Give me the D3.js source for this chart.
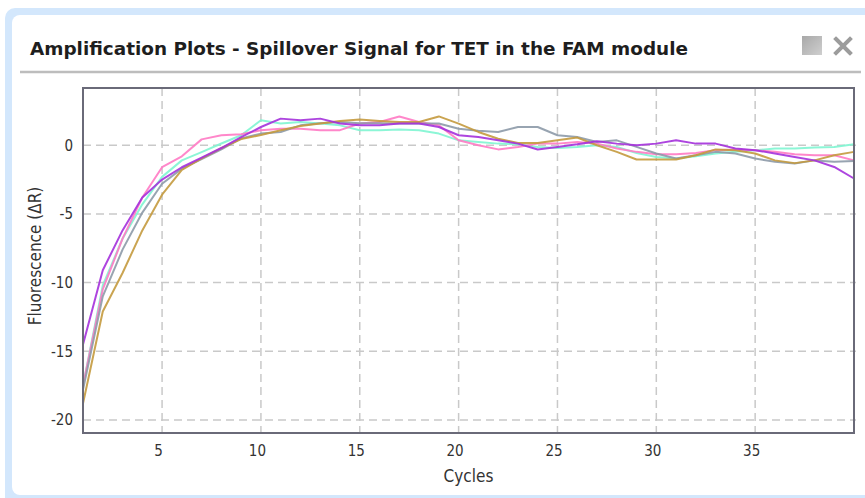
<!DOCTYPE html>
<html>
<head>
<meta charset="utf-8">
<script src="https://cdn.jsdelivr.net/npm/d3@7"></script>
<style>
  html, body { margin: 0; padding: 0; background: #fff; }
  svg { display: block; }
</style>
</head>
<body>
<svg id="chart" width="865" height="498"></svg>
<script>
// Cycle numbers along the x axis
const cycles = [1,2,3,4,5,6,7,8,9,10,11,12,13,14,15,16,17,18,19,20,
                21,22,23,24,25,26,27,28,29,30,31,32,33,34,35,36,37,38,39,40];

// Fluorescence (ΔR) per cycle for each well
const tealSeries = [-17.5,-10.2,-6.8,-4.3,-2.3,-1.1,-0.5,0.13,0.73,1.82,1.58,1.7,1.58,1.45,1.1,1.1,1.14,1.1,0.85,0.36,
                    0.24,0.12,0.07,-0.12,-0.2,-0.12,0,-0.12,-0.56,-0.85,-0.97,-0.8,-0.6,-0.48,-0.36,-0.24,-0.24,-0.17,-0.12,0.07];
const pinkSeries = [-17.5,-10.5,-6.8,-3.8,-1.6,-0.8,0.43,0.73,0.8,1.1,1.2,1.2,1.1,1.1,1.58,1.7,2.1,1.7,1.45,0.36,
                    0,-0.3,-0.12,0.12,0.12,0.24,0.12,-0.24,-0.48,-0.65,-0.65,-0.56,-0.36,-0.3,-0.36,-0.48,-0.65,-0.73,-0.73,-1.1];
const greySeries = [-17.8,-11,-7.6,-4.9,-2.8,-1.7,-1.0,-0.3,0.5,0.85,0.97,1.45,1.6,1.7,1.6,1.6,1.58,1.58,1.58,1.2,
                    1.05,0.97,1.33,1.33,0.73,0.6,0.24,0.36,-0.12,-0.6,-0.97,-0.73,-0.48,-0.6,-0.97,-1.2,-1.33,-1.1,-1.2,-1.14];
const goldSeries = [-18.8,-12.1,-9.3,-6.2,-3.6,-1.8,-0.95,-0.2,0.45,0.75,1.1,1.4,1.58,1.77,1.87,1.77,1.7,1.7,2.1,1.58,
                    0.97,0.48,0.17,0.17,0.36,0.56,0,-0.48,-1.04,-1.04,-1.04,-0.73,-0.3,-0.36,-0.6,-1.1,-1.3,-1.1,-0.73,-0.48];
const purpleSeries = [-14.5,-9.1,-6.2,-3.8,-2.5,-1.6,-0.9,-0.2,0.6,1.33,1.94,1.82,1.94,1.58,1.45,1.45,1.58,1.58,1.33,0.73,
                      0.6,0.36,0.12,-0.31,-0.12,0.07,0.3,0.12,0,0.12,0.36,0.12,0.12,-0.24,-0.36,-0.6,-0.85,-1.1,-1.58,-2.42];

// Tick values
const xTicks = [5, 10, 15, 20, 25, 30, 35];
const yTicks = [0, -5, -10, -15, -20];

const titleText = "Amplification Plots - Spillover Signal for TET in the FAM module";

const series = [
  { values: tealSeries,   color: "#7ff5d2" },
  { values: pinkSeries,   color: "#ff7ac4" },
  { values: greySeries,   color: "#8d9aa8" },
  { values: goldSeries,   color: "#c49a3e" },
  { values: purpleSeries, color: "#a431dc" }
];

const svg = d3.select("#chart");

// Window frame: light blue border with a rounded white panel
svg.append("rect").attr("x", 5).attr("y", 8).attr("width", 880).attr("height", 500)
  .attr("rx", 10).attr("fill", "#d3e7fc");
svg.append("rect").attr("x", 12).attr("y", 15).attr("width", 870).attr("height", 480)
  .attr("rx", 8).attr("fill", "#ffffff");

// Title bar
svg.append("text")
  .attr("x", 30).attr("y", 55)
  .attr("font-family", "'DejaVu Sans Condensed', 'DejaVu Sans', sans-serif")
  .attr("font-weight", "bold")
  .attr("font-size", 18)
  .attr("fill", "#1e1e1e")
  .attr("textLength", 658)
  .attr("lengthAdjust", "spacingAndGlyphs")
  .text(titleText);

svg.append("line").attr("x1", 20).attr("x2", 861).attr("y1", 72).attr("y2", 72)
  .attr("stroke", "#bdbdbd").attr("stroke-width", 2.5);

// Window icons
const grad = svg.append("defs").append("linearGradient").attr("id", "iconGrad")
  .attr("x1", 0).attr("y1", 0).attr("x2", 1).attr("y2", 1);
grad.append("stop").attr("offset", "0%").attr("stop-color", "#a8a8a8");
grad.append("stop").attr("offset", "100%").attr("stop-color", "#cfcfcf");
svg.append("rect").attr("x", 802).attr("y", 36).attr("width", 20).attr("height", 19)
  .attr("fill", "url(#iconGrad)");
svg.append("path").attr("d", "M836,39 L850,53 M850,39 L836,53")
  .attr("stroke", "#9c9c9c").attr("stroke-width", 4).attr("stroke-linecap", "square");

// Plot area
const plot = { left: 83, right: 854, top: 88, bottom: 433 };

const x = d3.scaleLinear().domain([1, 40]).range([plot.left, plot.right]);
const y = d3.scaleLinear().domain([-20.95, 4.17]).range([plot.bottom, plot.top]);

const fontFamily = "'DejaVu Sans Condensed', 'DejaVu Sans', sans-serif";

// Dashed grid
const grid = svg.append("g");
grid.selectAll(".vgrid").data(xTicks).join("line")
  .attr("x1", d => x(d)).attr("x2", d => x(d))
  .attr("y1", plot.top).attr("y2", plot.bottom + 3)
  .attr("stroke", "#c9c9c9").attr("stroke-width", 1.5).attr("stroke-dasharray", "8,5");
grid.selectAll(".hgrid").data(yTicks).join("line")
  .attr("x1", plot.left).attr("x2", plot.right + 2)
  .attr("y1", d => y(d)).attr("y2", d => y(d))
  .attr("stroke", "#c9c9c9").attr("stroke-width", 1.5).attr("stroke-dasharray", "8,5");

// Curves
const line = d3.line()
  .x((d, i) => x(cycles[i]))
  .y(d => y(d));

svg.append("g").selectAll("path").data(series).join("path")
  .attr("d", d => line(d.values))
  .attr("fill", "none")
  .attr("stroke", d => d.color)
  .attr("stroke-width", 2)
  .attr("stroke-opacity", 0.9)
  .attr("stroke-linejoin", "round");

// Frame
svg.append("rect")
  .attr("x", plot.left).attr("y", plot.top)
  .attr("width", plot.right - plot.left).attr("height", plot.bottom - plot.top)
  .attr("fill", "none").attr("stroke", "#6a6a78").attr("stroke-width", 2);

// Axes (plain hyphen for negative labels)
const xAxis = d3.axisBottom(x).tickValues(xTicks).tickSize(0).tickPadding(12);
const yAxis = d3.axisLeft(y).tickValues(yTicks).tickSize(0).tickPadding(10)
  .tickFormat(d => String(d));

const gx = svg.append("g").attr("transform", `translate(0,${plot.bottom})`).call(xAxis);
const gy = svg.append("g").attr("transform", `translate(${plot.left},0)`).call(yAxis);
[gx, gy].forEach(g => {
  g.select(".domain").remove();
  g.selectAll("text")
    .attr("font-family", fontFamily)
    .attr("font-size", 15)
    .attr("fill", "#333");
});
gx.selectAll("text").attr("dx", -4);

// Axis titles
svg.append("text")
  .attr("x", (plot.left + plot.right) / 2).attr("y", 482)
  .attr("text-anchor", "middle")
  .attr("font-family", fontFamily).attr("font-size", 17).attr("fill", "#333")
  .text("Cycles");

svg.append("text")
  .attr("transform", "translate(41,256) rotate(-90)")
  .attr("text-anchor", "middle")
  .attr("font-family", fontFamily).attr("font-size", 17).attr("fill", "#333")
  .text("Fluorescence (ΔR)");
</script>
</body>
</html>
